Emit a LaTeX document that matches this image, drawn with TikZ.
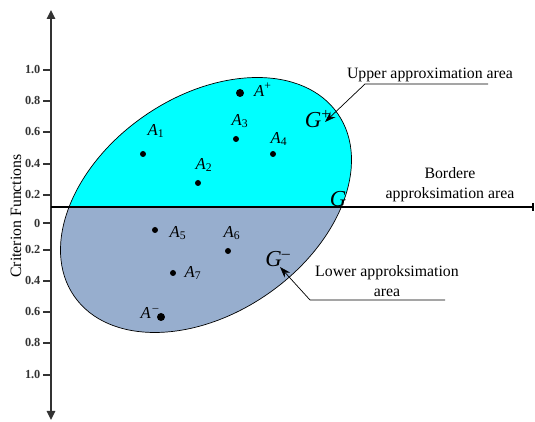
\documentclass[tikz,border=0pt]{standalone}
\usepackage{fontspec}
\setmainfont{Liberation Serif}
\usetikzlibrary{arrows.meta}

\definecolor{upfill}{RGB}{0,255,255}
\definecolor{lowfill}{RGB}{151,174,206}

\tikzset{
  dot/.style={circle, fill=black, inner sep=0pt, minimum size=0.12cm},
  bigdot/.style={dot, minimum size=0.16cm},
  lab/.style={inner sep=0pt, font=\fontsize{9.5}{11}\selectfont},
  glab/.style={inner sep=0pt, font=\fontsize{13}{15}\selectfont\itshape},
  note/.style={inner sep=0pt, align=center, font=\fontsize{9}{11.3}\selectfont},
  ticklab/.style={anchor=east, inner sep=0pt, font=\fontsize{7}{8}\selectfont\bfseries},
}

\begin{document}
\begin{tikzpicture}[x=0.02cm, y=0.02cm, thick]
  \useasboundingbox (0,0) rectangle (535,422);

  % region: ellipse split by the border line
  \begin{scope}
    \clip (0,215) rectangle (535,422);
    \fill[upfill, rotate around={34.7:(206,217)}] (206,217) ellipse [x radius=160.3, y radius=108.3];
  \end{scope}
  \begin{scope}
    \clip (0,0) rectangle (535,215);
    \fill[lowfill, rotate around={34.7:(206,217)}] (206,217) ellipse [x radius=160.3, y radius=108.3];
  \end{scope}
  \draw[thin, rotate around={34.7:(206,217)}] (206,217) ellipse [x radius=160.3, y radius=108.3];

  % axes
  \coordinate (O) at (51,215);
  \coordinate (Top) at (51,412);
  \coordinate (Bot) at (51,2);
  \coordinate (E) at (534,215);
  \draw[line width=0.9pt, black!80, -{Triangle[width=0.17cm, length=0.18cm]}] (O) -- (Top);
  \draw[line width=0.9pt, black!80, -{Triangle[width=0.17cm, length=0.18cm]}] (O) -- (Bot);
  \draw[line width=1pt, -{Bar[width=0.16cm]}] (O) -- (E);
  \node[rotate=90, font=\fontsize{9}{11}\selectfont] (ylab) at (16,206) {Criterion Functions};

  % ticks, upper half
  \foreach \y/\t in {352/1.0, 321/0.8, 290/0.6, 258/0.4, 227/0.2}
    \draw[line width=0.7pt, black!80] (43,\y) -- (51,\y) node[ticklab] at (41,\y) {\t};
  % ticks, lower half
  \foreach \y/\t in {199/0, 172/0.2, 141/0.4, 110/0.6, 79/0.8, 47/1.0}
    \draw[line width=0.7pt, black!80] (43,\y) -- (51,\y) node[ticklab] at (41,\y) {\t};

  % alternatives
  \node[bigdot] (Ap) at (240,329) {};
  \node[dot] (A1) at (143,268) {};
  \node[dot] (A2) at (198,239) {};
  \node[dot] (A3) at (236,283) {};
  \node[dot] (A4) at (273,268) {};
  \node[dot] (A5) at (155,192) {};
  \node[dot] (A6) at (228,171) {};
  \node[dot] (A7) at (173,149) {};
  \node[bigdot] (Am) at (161,105) {};

  \node[lab] (Apl) at (263,332) {\textit{A}\textsuperscript{+}};
  \node[lab] (A1l) at (156,291) {\textit{A}\textsubscript{1}};
  \node[lab] (A2l) at (204,257) {\textit{A}\textsubscript{2}};
  \node[lab] (A3l) at (240,301) {\textit{A}\textsubscript{3}};
  \node[lab] (A4l) at (279,283) {\textit{A}\textsubscript{4}};
  \node[lab] (A5l) at (178,189) {\textit{A}\textsubscript{5}};
  \node[lab] (A6l) at (232,189) {\textit{A}\textsubscript{6}};
  \node[lab] (A7l) at (193,149) {\textit{A}\textsubscript{7}};
  \node[lab] (Aml) at (150,109) {\textit{A}\textsuperscript{\,--}};

  \node[glab] (Gp) at (318,303) {G\textsuperscript{\upshape +}};
  \node[glab] (G) at (338,223) {G};
  \node[glab] (Gm) at (278,163) {G\textsuperscript{\upshape --}};

  % callouts
  \node[note] (upper) at (430,347) {Upper approximation area};
  \coordinate (up1) at (365,338);
  \coordinate (up2) at (488,338);
  \coordinate (uptip) at (325,300);
  \draw[thin, -{Stealth[length=0.22cm, width=0.15cm]}] (up2) -- (up1) -- (uptip);

  \node[note] (border) at (450,237) {Bordere\\approksimation area};

  \node[note] (lower) at (387,141) {Lower approksimation\\area};
  \coordinate (lo1) at (310,122);
  \coordinate (lo2) at (445,122);
  \coordinate (lotip) at (280,155);
  \draw[thin, -{Stealth[length=0.22cm, width=0.15cm]}] (lo2) -- (lo1) -- (lotip);
\end{tikzpicture}
\end{document}
